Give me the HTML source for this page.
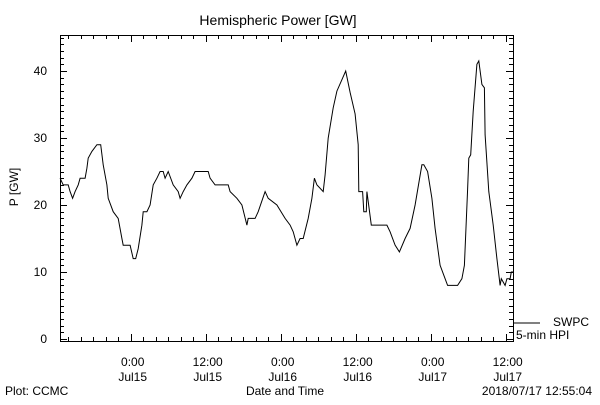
<!DOCTYPE html>
<html><head><meta charset="utf-8"><style>
body{margin:0;background:#fff;}
svg text{font-family:"Liberation Sans",sans-serif;font-size:12px;fill:#000;}
</style></head><body>
<svg id="chart" width="600" height="400" xmlns="http://www.w3.org/2000/svg">
<rect width="600" height="400" fill="#fff"/>
<text x="278" y="25" text-anchor="middle" style="font-size:14px">Hemispheric Power [GW]</text>
<text transform="translate(18,187) rotate(-90)" text-anchor="middle">P [GW]</text>
<text x="285" y="395" text-anchor="middle">Date and Time</text>
<text x="5" y="395">Plot: CCMC</text>
<text x="592" y="395" text-anchor="end">2018/07/17 12:55:04</text>
<line x1="513" y1="323" x2="540" y2="323" stroke="#000"/>
<text x="553" y="326">SWPC</text>
<text x="516" y="339">5-min HPI</text>
<g id="axes"></g>
<g id="series"></g>
</svg>
<script>
const hours=[-11.3,-10.8,-10.0,-9.7,-9.3,-8.9,-8.4,-8.1,-7.3,-7.0,-6.8,-6.2,-5.4,-4.8,-4.4,-3.8,-3.6,-2.8,-2.0,-1.4,-1.2,-0.1,0.4,0.8,1.2,1.8,2.0,2.6,3.1,3.6,4.2,4.7,5.2,5.5,6.0,6.8,7.6,7.9,8.4,9.0,9.8,10.3,12.4,12.7,13.5,15.6,15.9,17.0,17.8,18.6,18.8,19.9,20.4,21.5,22.0,23.4,24.7,25.5,26.0,26.6,27.1,27.6,28.4,29.0,29.4,29.8,30.8,31.1,31.6,32.4,33.0,34.4,35.1,35.9,36.4,36.5,37.1,37.3,37.7,37.8,38.5,41.0,41.5,42.3,43.0,43.9,44.7,45.5,46.6,46.9,47.5,48.2,48.7,49.5,50.3,50.7,52.3,53.0,53.4,53.9,54.1,54.4,54.8,55.4,55.7,56.2,56.6,56.7,57.3,58.0,58.6,59.1,59.3,59.9,60.2,60.7,60.9,61.2];
const power=[24,23,23,22,21,22,23,24,24,25.5,27,28,29,29,26,23,21,19,18,15,14,14,12,12,13.5,17,19,19,20,23,24,25,25,24,25,23,22,21,22,23,24,25,25,24,23,23,22,21,20,17,18,18,19,22,21,20,18,17,16,14,15,15,18,21,24,23,22,24.5,30,34.5,37,40,36.8,33.6,29,22,22,19,19,22,17,17,16,14,13,15,16.5,20,26,26,25,21,16.5,11,9,8,8,9,11,22.3,27,27.5,34,41,41.5,38,37.5,30.5,22,17,12,8,9,8,9,9,10,10];
const yTicks=[0,10,20,30,40];
const xTickHours=[0,12,24,36,48,60];
const xTickTimes=["0:00","12:00","0:00","12:00","0:00","12:00"];
const xTickDays=["Jul15","Jul15","Jul16","Jul16","Jul17","Jul17"];
const L=60,R=513,T=35,B=341;
const X=h=>130.7+h*6.25;
const Y=v=>339-v*6.7;
const NS='http://www.w3.org/2000/svg';
const ax=document.getElementById('axes');
function mk(tag,attrs,parent){const e=document.createElementNS(NS,tag);for(const k in attrs)e.setAttribute(k,attrs[k]);parent.appendChild(e);return e;}
const frame=mk('rect',{x:L+0.5,y:T+0.5,width:R-L,height:B-T,fill:'none',stroke:'#000','stroke-width':1},ax);


for(let v=0;v<=45;v++){const y=Math.round(Y(v))+0.5;const len=(v%10===0)?7:4;
 mk('line',{x1:L,y1:y,x2:L+len,y2:y,stroke:'#000'},ax);
 mk('line',{x1:R,y1:y,x2:R-len,y2:y,stroke:'#000'},ax);}
yTicks.forEach(v=>{const t=mk('text',{x:47,y:Y(v)+4,'text-anchor':'end'},ax);t.textContent=v;
 
 });
for(let h=-10;h<=60;h+=2){const x=Math.round(X(h))+0.5;const len=(h%12===0)?7:4;
 mk('line',{x1:x,y1:B,x2:x,y2:B-len,stroke:'#000'},ax);
 mk('line',{x1:x,y1:T,x2:x,y2:T+len,stroke:'#000'},ax);}
xTickHours.forEach((h,i)=>{const t=mk('text',{x:X(h)+2,y:366,'text-anchor':'middle'},ax);t.textContent=xTickTimes[i];
 
 
 const d=mk('text',{x:X(h)+2,y:381,'text-anchor':'middle'},ax);d.textContent=xTickDays[i];
 
 });
const pts=hours.map((h,i)=>X(h).toFixed(1)+','+Y(power[i]).toFixed(1)).join(' ');
const pl=mk('polyline',{points:pts,fill:'none',stroke:'#000','stroke-width':1},document.getElementById('series'));


</script>
</body></html>
